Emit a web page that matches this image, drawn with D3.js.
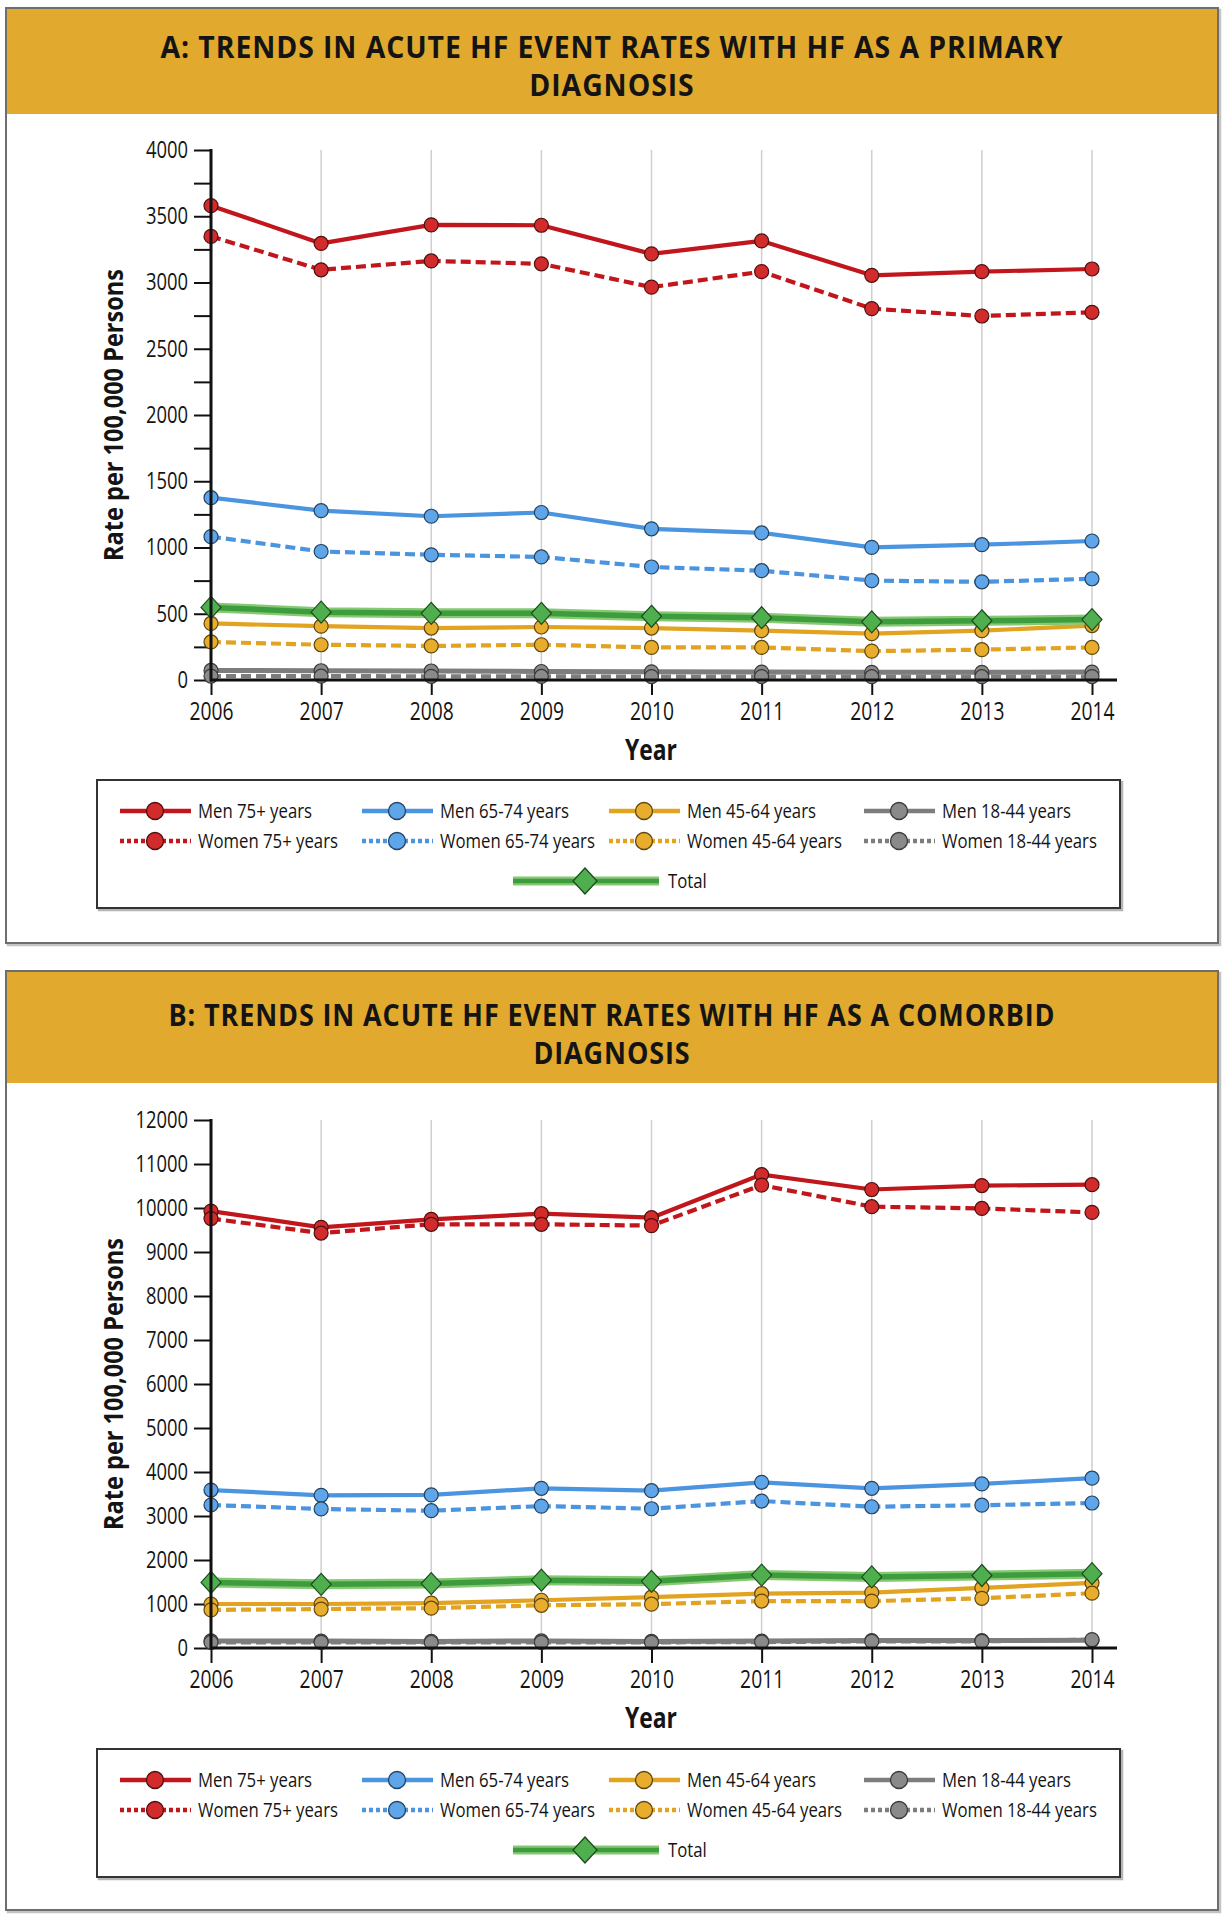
<!DOCTYPE html>
<html>
<head>
<meta charset="utf-8">
<script src="https://cdnjs.cloudflare.com/ajax/libs/d3/7.8.5/d3.min.js"></script>
<style>
  body { margin: 0; background: #ffffff; }
  svg { display: block; }
  text { font-family: "Open Sans", "Noto Sans", sans-serif; fill: #141414; }
</style>
</head>
<body>
<svg id="chart" width="1224" height="1920"></svg>
<script>
// ---------------- DATA ----------------
const years = [2006, 2007, 2008, 2009, 2010, 2011, 2012, 2013, 2014];

const seriesLabels = {
  men75: "Men 75+ years", women75: "Women 75+ years",
  men65: "Men 65-74 years", women65: "Women 65-74 years",
  men45: "Men 45-64 years", women45: "Women 45-64 years",
  men18: "Men 18-44 years", women18: "Women 18-44 years",
  total: "Total"
};

// Panel A: HF as primary diagnosis (rate per 100,000 persons)
const primaryMen75   = [3580, 3295, 3435, 3432, 3216, 3314, 3054, 3082, 3102];
const primaryWomen75 = [3348, 3096, 3163, 3141, 2965, 3082, 2803, 2747, 2775];
const primaryMen65   = [1376, 1278, 1236, 1264, 1141, 1110, 1001, 1021, 1049];
const primaryWomen65 = [1082, 970, 945, 929, 853, 825, 750, 741, 764];
const primaryMen45   = [427, 406, 392, 400, 392, 372, 350, 372, 411];
const primaryWomen45 = [287, 266, 257, 266, 246, 246, 218, 229, 246];
const primaryMen18   = [72, 70, 68, 64, 62, 60, 58, 58, 60];
const primaryWomen18 = [30, 29, 28, 27, 26, 26, 25, 25, 26];
const primaryTotal   = [548, 512, 503, 503, 481, 470, 439, 447, 456];

// Panel B: HF as comorbid diagnosis (rate per 100,000 persons)
const comorbidMen75   = [9930, 9560, 9740, 9870, 9780, 10760, 10420, 10510, 10530];
const comorbidWomen75 = [9760, 9430, 9630, 9630, 9600, 10520, 10030, 9990, 9900];
const comorbidMen65   = [3590, 3470, 3480, 3630, 3575, 3765, 3630, 3730, 3860];
const comorbidWomen65 = [3250, 3160, 3120, 3225, 3165, 3340, 3210, 3245, 3295];
const comorbidMen45   = [1000, 1000, 1022, 1085, 1155, 1235, 1260, 1365, 1480];
const comorbidWomen45 = [866, 884, 905, 970, 996, 1066, 1066, 1130, 1245];
const comorbidMen18   = [160, 158, 150, 160, 150, 158, 170, 170, 175];
const comorbidWomen18 = [130, 128, 125, 130, 128, 135, 150, 150, 190];
const comorbidTotal   = [1490, 1447, 1464, 1542, 1516, 1658, 1615, 1648, 1690];

const primaryYTicks  = [0, 500, 1000, 1500, 2000, 2500, 3000, 3500, 4000];
const comorbidYTicks = [0, 1000, 2000, 3000, 4000, 5000, 6000, 7000, 8000, 9000, 10000, 11000, 12000];

const primaryTitle  = ["A: TRENDS IN ACUTE HF EVENT RATES WITH HF AS A PRIMARY", "DIAGNOSIS"];
const comorbidTitle = ["B: TRENDS IN ACUTE HF EVENT RATES WITH HF AS A COMORBID", "DIAGNOSIS"];
const yAxisTitle = "Rate per 100,000 Persons";
const xAxisTitle = "Year";

// ---------------- STYLES ----------------
const style = {
  men75:   { line: "#c1161c", fill: "#d22b2b", stroke: "#4d0f0f", dash: null },
  women75: { line: "#c1161c", fill: "#d22b2b", stroke: "#4d0f0f", dash: "10,5" },
  men65:   { line: "#4a94e0", fill: "#5ea5ea", stroke: "#25425e", dash: null },
  women65: { line: "#4a94e0", fill: "#5ea5ea", stroke: "#25425e", dash: "10,5" },
  men45:   { line: "#e2a320", fill: "#e8ad2d", stroke: "#5e4610", dash: null },
  women45: { line: "#e2a320", fill: "#e8ad2d", stroke: "#5e4610", dash: "10,5" },
  men18:   { line: "#7d7d7d", fill: "#8a8a8a", stroke: "#3a3a3a", dash: null },
  women18: { line: "#7d7d7d", fill: "#8a8a8a", stroke: "#3a3a3a", dash: "10,5" },
  total:   { line: "#3d9d3d", fill: "#4faf4f", stroke: "#1c4a1c", dash: null }
};
const drawOrder = ["men18", "women18", "men45", "women45", "total", "men65", "women65", "men75", "women75"];

const svg = d3.select("#chart");

function condenseTo(node, target) {
  node.setAttribute("textLength", target);
  node.setAttribute("lengthAdjust", "spacingAndGlyphs");
}
function condenseBy(sel, f) {
  sel.each(function () {
    const w = this.getComputedTextLength();
    if (w > 0) condenseTo(this, w * f);
  });
}

function drawPanel(cfg, data, yTicks, titleLines) {
  const g = svg.append("g");

  // outer box
  g.append("rect").attr("x", cfg.left + 2).attr("y", cfg.top + 2)
    .attr("width", cfg.right - cfg.left).attr("height", cfg.bottom - cfg.top)
    .attr("fill", "none").attr("stroke", "#c4c4c4").attr("stroke-width", 2.5);
  g.append("rect").attr("x", cfg.left).attr("y", cfg.top)
    .attr("width", cfg.right - cfg.left).attr("height", cfg.bottom - cfg.top)
    .attr("fill", "#fff").attr("stroke", "#6e6e6e").attr("stroke-width", 2);
  // header
  g.append("rect").attr("x", cfg.left + 1).attr("y", cfg.top + 1)
    .attr("width", cfg.right - cfg.left - 2).attr("height", cfg.headerBottom - cfg.top - 1)
    .attr("fill", "#e1aa2e");

  // title
  const t1 = g.append("text").attr("x", 612).attr("y", cfg.titleBase[0])
    .attr("text-anchor", "middle").attr("font-size", 31).attr("font-weight", 700)
    .attr("letter-spacing", 1).text(titleLines[0]);
  const w1 = t1.node().getComputedTextLength();
  const f = cfg.titleWidth / w1;
  condenseTo(t1.node(), cfg.titleWidth);
  const t2 = g.append("text").attr("x", 612).attr("y", cfg.titleBase[1])
    .attr("text-anchor", "middle").attr("font-size", 31).attr("font-weight", 700)
    .attr("letter-spacing", 1).text(titleLines[1]);
  condenseTo(t2.node(), t2.node().getComputedTextLength() * f);

  // scales
  const x = d3.scalePoint().domain(years).range([211, 1092]).padding(0);
  const y = d3.scaleLinear().domain([0, cfg.yMax]).range([cfg.plotBottom, cfg.plotTop]);

  // vertical gridlines
  g.append("g").selectAll("line").data(years.slice(1)).join("line")
    .attr("x1", d => x(d)).attr("x2", d => x(d))
    .attr("y1", y(cfg.yMax)).attr("y2", y(0))
    .attr("stroke", "#cfcfcf").attr("stroke-width", 1.5);

  // y axis
  const tickVals = d3.range(0, cfg.yMax + 1, cfg.minorStep);
  const yAxis = d3.axisLeft(y).tickValues(tickVals).tickSize(17).tickPadding(6)
    .tickFormat(d => yTicks.includes(d) ? String(d) : "");
  const ya = g.append("g").attr("transform", "translate(211,0)").call(yAxis);
  ya.select(".domain").remove();
  ya.selectAll(".tick line").attr("stroke", "#111").attr("stroke-width", 2);
  ya.selectAll(".tick text").attr("font-size", 23).attr("fill", "#141414")
    .style("font-family", '"Open Sans", sans-serif');
  condenseBy(ya.selectAll(".tick text"), 0.8);

  // x axis
  const xAxis = d3.axisBottom(x).tickSize(15).tickPadding(7).tickFormat(d => String(d));
  const xa = g.append("g").attr("transform", `translate(0,${cfg.plotBottom})`).call(xAxis);
  xa.select(".domain").remove();
  xa.selectAll(".tick line").attr("stroke", "#111").attr("stroke-width", 2);
  xa.selectAll(".tick text").attr("font-size", 26).attr("fill", "#141414")
    .style("font-family", '"Open Sans", sans-serif');
  condenseBy(xa.selectAll(".tick text"), 0.74);

  // series
  const line = d3.line().x((d, i) => x(years[i])).y(d => y(d));
  drawOrder.forEach(key => {
    const s = style[key];
    const vals = data[key];
    const sg = g.append("g");
    if (key === "total") {
      sg.append("path").attr("d", line(vals)).attr("fill", "none")
        .attr("stroke", "#86c874").attr("stroke-width", 10).attr("stroke-linejoin", "round");
      sg.append("path").attr("d", line(vals)).attr("fill", "none")
        .attr("stroke", s.line).attr("stroke-width", 5.5).attr("stroke-linejoin", "round");
      sg.selectAll("path.m").data(vals).join("path").attr("class", "m")
        .attr("transform", (d, i) => `translate(${x(years[i])},${y(d)})`)
        .attr("d", "M0,-11L10,0L0,11L-10,0Z")
        .attr("fill", s.fill).attr("stroke", s.stroke).attr("stroke-width", 1.2);
    } else {
      const p = sg.append("path").attr("d", line(vals)).attr("fill", "none")
        .attr("stroke", s.line).attr("stroke-width", key === "men18" ? 5 : 4.2)
        .attr("stroke-linejoin", "round");
      if (s.dash) p.attr("stroke-dasharray", s.dash);
      sg.selectAll("circle").data(vals).join("circle")
        .attr("cx", (d, i) => x(years[i])).attr("cy", d => y(d)).attr("r", 7)
        .attr("fill", s.fill).attr("stroke", s.stroke).attr("stroke-width", 1.2);
    }
  });

  // axis lines (on top)
  g.append("line").attr("x1", 211).attr("x2", 211).attr("y1", y(cfg.yMax) - 1).attr("y2", cfg.plotBottom + 1.5)
    .attr("stroke", "#111").attr("stroke-width", 3);
  g.append("line").attr("x1", 210).attr("x2", 1117).attr("y1", cfg.plotBottom).attr("y2", cfg.plotBottom)
    .attr("stroke", "#111").attr("stroke-width", 3);

  // axis titles
  const yt = g.append("text")
    .attr("transform", `translate(123,${(cfg.plotTop + cfg.plotBottom) / 2}) rotate(-90)`)
    .attr("text-anchor", "middle").attr("font-size", 27).attr("font-weight", 700)
    .text(yAxisTitle);
  condenseTo(yt.node(), 292);
  const xt = g.append("text").attr("x", 651).attr("y", cfg.plotBottom + 80)
    .attr("text-anchor", "middle").attr("font-size", 28).attr("font-weight", 700)
    .text(xAxisTitle);
  condenseTo(xt.node(), 52);

  // legend
  const lt = cfg.legendTop;
  g.append("rect").attr("x", 99).attr("y", lt + 2).attr("width", 1023).attr("height", 128)
    .attr("fill", "none").attr("stroke", "#b5b5b5").attr("stroke-width", 2.5);
  g.append("rect").attr("x", 97).attr("y", lt).attr("width", 1023).attr("height", 128)
    .attr("fill", "#fff").attr("stroke", "#333").attr("stroke-width", 2);

  const cols = [120, 362, 609, 864];
  const rowKeys = [["men75", "men65", "men45", "men18"], ["women75", "women65", "women45", "women18"]];
  const legendTexts = [];
  rowKeys.forEach((row, ri) => {
    const ly = lt + 31 + ri * 30;
    row.forEach((key, ci) => {
      const s = style[key];
      const x0 = cols[ci];
      const ln = g.append("line").attr("x1", x0).attr("x2", x0 + 71).attr("y1", ly).attr("y2", ly)
        .attr("stroke", s.line).attr("stroke-width", 4.5);
      if (s.dash) ln.attr("stroke-dasharray", "4,3");
      g.append("circle").attr("cx", x0 + 35).attr("cy", ly).attr("r", 8.5)
        .attr("fill", s.fill).attr("stroke", s.stroke).attr("stroke-width", 1.3);
      legendTexts.push(g.append("text").attr("x", x0 + 78).attr("y", ly).attr("dy", "0.36em")
        .attr("font-size", 20).text(seriesLabels[key]).node());
    });
  });
  const ty = lt + 101;
  g.append("line").attr("x1", 513).attr("x2", 659).attr("y1", ty).attr("y2", ty)
    .attr("stroke", "#86c874").attr("stroke-width", 9);
  g.append("line").attr("x1", 513).attr("x2", 659).attr("y1", ty).attr("y2", ty)
    .attr("stroke", style.total.line).attr("stroke-width", 4.5);
  g.append("path").attr("transform", `translate(585,${ty})`).attr("d", "M0,-13L12,0L0,13L-12,0Z")
    .attr("fill", style.total.fill).attr("stroke", style.total.stroke).attr("stroke-width", 1.3);
  legendTexts.push(g.append("text").attr("x", 668).attr("y", ty).attr("dy", "0.36em")
    .attr("font-size", 20).text(seriesLabels.total).node());
  const ref = legendTexts[0].getComputedTextLength();
  const lf = 114 / ref;
  legendTexts.forEach(n => condenseTo(n, n.getComputedTextLength() * lf));
}

const panelA = { left: 6, right: 1218, top: 8, bottom: 943, headerBottom: 114,
  titleBase: [58, 96], titleWidth: 903, plotTop: 150, plotBottom: 680,
  yMax: 4000, minorStep: 250, legendTop: 780 };
const panelB = { left: 6, right: 1218, top: 971, bottom: 1910, headerBottom: 1083,
  titleBase: [1026, 1064], titleWidth: 887, plotTop: 1120, plotBottom: 1648,
  yMax: 12000, minorStep: 1000, legendTop: 1749 };

drawPanel(panelA, {
  men75: primaryMen75, women75: primaryWomen75, men65: primaryMen65, women65: primaryWomen65,
  men45: primaryMen45, women45: primaryWomen45, men18: primaryMen18, women18: primaryWomen18,
  total: primaryTotal
}, primaryYTicks, primaryTitle);

drawPanel(panelB, {
  men75: comorbidMen75, women75: comorbidWomen75, men65: comorbidMen65, women65: comorbidWomen65,
  men45: comorbidMen45, women45: comorbidWomen45, men18: comorbidMen18, women18: comorbidWomen18,
  total: comorbidTotal
}, comorbidYTicks, comorbidTitle);
</script>
</body>
</html>
